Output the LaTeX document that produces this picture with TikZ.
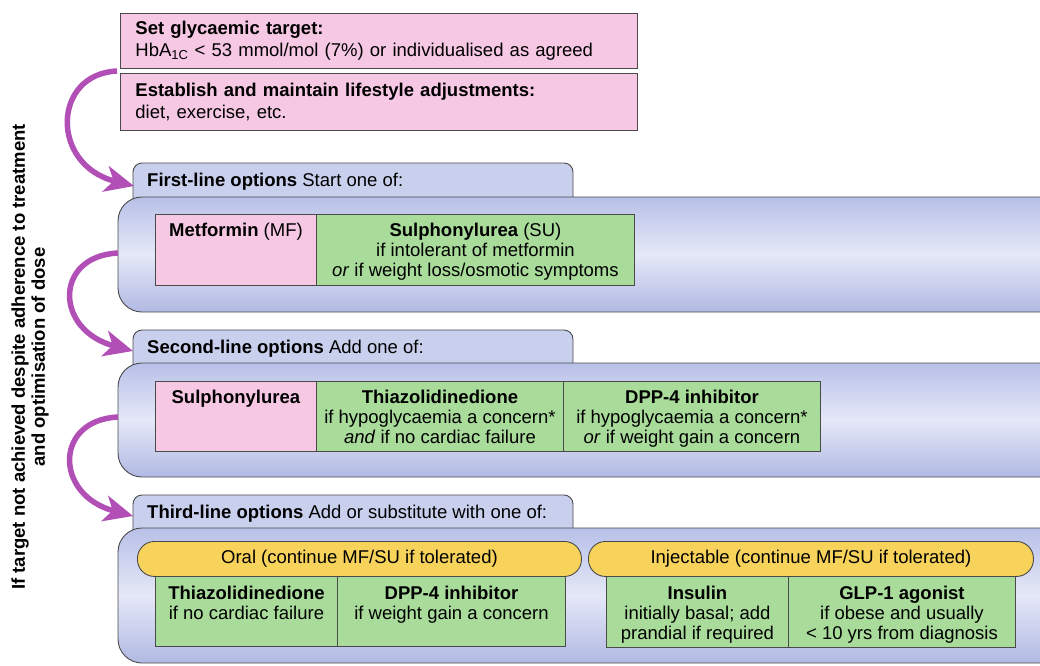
\documentclass[tikz,border=0pt]{standalone}
\usepackage{fontspec}
\setmainfont{Liberation Sans}
\usetikzlibrary{arrows.meta}
\definecolor{pinkc}{HTML}{F6C8E4}
\definecolor{greenc}{HTML}{A9DB9A}
\definecolor{tabc}{HTML}{C9D0EE}
\definecolor{boxtop}{HTML}{B8C0E8}
\definecolor{boxmid}{HTML}{E5E8F7}
\definecolor{boxbot}{HTML}{B1B9E3}
\definecolor{yellc}{HTML}{F8D35C}
\definecolor{purp}{HTML}{B24FB6}
\definecolor{edgec}{HTML}{4A4A4A}
\tikzset{
  edgeline/.style={draw=edgec, line width=0.9pt},
  pinkbox/.style={edgeline, fill=pinkc, rectangle, anchor=north west, inner xsep=15pt, inner ysep=0pt,
     align=left, font=\fontsize{18.5}{22}\selectfont},
  cell/.style={edgeline, rectangle, anchor=north west, inner sep=0pt},
  pinkcell/.style={cell, fill=pinkc},
  greencell/.style={cell, fill=greenc},
  celltext/.style={anchor=north, inner sep=0pt, align=center},
  tabbox/.style={edgeline, fill=tabc, rounded corners=9pt},
  bigbox/.style={edgeline, rounded corners=24pt, top color=boxtop, bottom color=boxbot, middle color=boxmid},
  pill/.style={edgeline, fill=yellc, rectangle, rounded corners=17pt, anchor=north west, minimum height=35pt, inner sep=0pt},
  tabtext/.style={anchor=west, inner sep=0pt},
  flow/.style={draw=purp, line width=5.5pt, -{Stealth[length=29pt,width=26pt,inset=8pt]}},
}
\begin{document}
\begin{tikzpicture}[x=1pt,y=1pt,font=\fontsize{18.5}{20}\selectfont]
\clip (0,0) rectangle (1040,-665);
\fill[white] (0,0) rectangle (1040,-665);

% top pink boxes
\node[pinkbox, minimum width=517pt, minimum height=55pt, text width=487pt] (g1) at (120,-13)
  {\textbf{Set glycaemic target:}\\HbA\textsubscript{1C} < 53 mmol/mol (7\%) or individualised as agreed};
\node[pinkbox, minimum width=517pt, minimum height=57pt, text width=487pt] (g2) at (120,-73)
  {\textbf{Establish and maintain lifestyle adjustments:}\\diet, exercise, etc.};

% first line
\path[tabbox] (133,-200) |- (573,-163) -- (573,-200);
\node[tabtext] (t1) at (147,-182) {\textbf{First-line options} Start one of:};
\path[bigbox] (118,-197) rectangle (1064,-312);
\coordinate (b1w) at (118,-253);
\node[pinkcell, minimum width=161pt, minimum height=71pt] (mf) at (155,-214) {};
\node[greencell, minimum width=318pt, minimum height=71pt] (su) at (316,-214) {};
\node[celltext] at ([yshift=-9pt]mf.north) {\textbf{Metformin} (MF)};
\node[celltext] at ([yshift=-9pt]su.north) {\textbf{Sulphonylurea} (SU)\\if intolerant of metformin\\\textit{or} if weight loss/osmotic symptoms};

% second line
\path[tabbox] (133,-366) |- (573,-330) -- (573,-366);
\node[tabtext] (t2) at (147,-349) {\textbf{Second-line options} Add one of:};
\path[bigbox] (118,-363) rectangle (1064,-477);
\coordinate (b2w) at (118,-417);
\node[pinkcell, minimum width=161pt, minimum height=70pt] (su2) at (155,-381) {};
\node[greencell, minimum width=247pt, minimum height=70pt] (tz2) at (316,-381) {};
\node[greencell, minimum width=257pt, minimum height=70pt] (dpp2) at (563,-381) {};
\node[celltext] at ([yshift=-9pt]su2.north) {\textbf{Sulphonylurea}};
\node[celltext] at ([yshift=-9pt]tz2.north) {\textbf{Thiazolidinedione}\\if hypoglycaemia a concern*\\\textit{and} if no cardiac failure};
\node[celltext] at ([yshift=-9pt]dpp2.north) {\textbf{DPP-4 inhibitor}\\if hypoglycaemia a concern*\\\textit{or} if weight gain a concern};

% third line
\path[tabbox] (133,-531) |- (573,-495) -- (573,-531);
\node[tabtext] (t3) at (147,-514) {\textbf{Third-line options} Add or substitute with one of:};
\path[bigbox] (118,-528) rectangle (1064,-663);
\node[greencell, minimum width=182pt, minimum height=70pt] (tz3) at (155,-576) {};
\node[greencell, minimum width=228pt, minimum height=70pt] (dpp3) at (337,-576) {};
\node[greencell, minimum width=182pt, minimum height=71pt] (ins3) at (606,-576) {};
\node[greencell, minimum width=227pt, minimum height=71pt] (glp3) at (788,-576) {};
\node[pill, minimum width=444pt] (oral) at (137,-541) {Oral (continue MF/SU if tolerated)};
\node[pill, minimum width=445pt] (inj) at (588,-541) {Injectable (continue MF/SU if tolerated)};
\node[celltext] at ([yshift=-10pt]tz3.north) {\textbf{Thiazolidinedione}\\if no cardiac failure};
\node[celltext] at ([yshift=-10pt]dpp3.north) {\textbf{DPP-4 inhibitor}\\if weight gain a concern};
\node[celltext] at ([yshift=-10pt]ins3.north) {\textbf{Insulin}\\initially basal; add\\prandial if required};
\node[celltext] at ([yshift=-10pt]glp3.north) {\textbf{GLP-1 agonist}\\if obese and usually\\< 10 yrs from diagnosis};

% side label
\node[rotate=90, align=center, font=\fontsize{18.5}{20}\selectfont\bfseries] (side) at (30,-357)
  {If target not achieved despite adherence to treatment\\and optimisation of dose};

% arrows
\coordinate (a1s) at (117,-71);
\coordinate (a1e) at (134,-186);
\coordinate (a2e) at (133,-351);
\coordinate (a3e) at (133,-516);
\draw[flow] (a1s) .. controls (52,-74) and (50,-165) .. (a1e);
\draw[flow] (b1w) .. controls (54,-256) and (54,-330) .. (a2e);
\draw[flow] (b2w) .. controls (54,-420) and (54,-495) .. (a3e);
\end{tikzpicture}
\end{document}
